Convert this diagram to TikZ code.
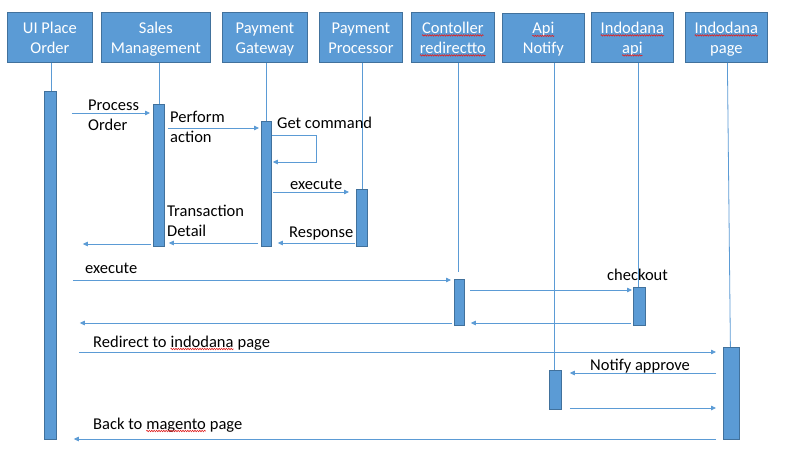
\documentclass[tikz,border=0pt]{standalone}
\usepackage{fontspec}
\setmainfont{Carlito}
\usetikzlibrary{arrows.meta,decorations.pathmorphing}
\definecolor{accent}{HTML}{5B9BD5}
\definecolor{edgeblue}{HTML}{41719C}
\definecolor{squig}{HTML}{E02020}
\newcommand\sq[1]{\tikz[baseline=(sqw.base)]{\node[inner sep=0pt,outer sep=0pt](sqw){#1};\draw[squig,line width=0.6pt,decorate,decoration={zigzag,amplitude=0.7pt,segment length=2.4pt}]([yshift=-2pt]sqw.base west)--([yshift=-2pt]sqw.base east);}}
\tikzset{
 head/.style={draw=edgeblue, fill=accent, line width=0.8pt, inner sep=0pt, anchor=north west, minimum height=50pt},
 headtxt/.style={text=white, align=center, font=\fontsize{16.5}{20}\selectfont, inner sep=0pt},
 lbl/.style={anchor=base west, font=\fontsize{16.5}{20}\selectfont, inner sep=0pt, text=black},
 lbltwo/.style={anchor=north west, align=left, font=\fontsize{16.5}{20}\selectfont, inner sep=0pt, text=black},
 actbar/.style={draw=edgeblue, fill=accent, line width=0.8pt, anchor=north west, inner sep=0pt},
 life/.style={draw=accent, line width=0.8pt},
 msg/.style={draw=accent, line width=0.8pt, -{Triangle[length=5pt,width=4.5pt]}},
}
\begin{document}
\begin{tikzpicture}[x=1pt,y=-1pt]
\useasboundingbox[fill=white] (0,0) rectangle (790,457);
% header boxes
\node[head, minimum width=85pt] (ui) at (7,12) {};
\node[head, minimum width=109pt] (sales) at (101,12) {};
\node[head, minimum width=85pt] (gw) at (222,12) {};
\node[head, minimum width=83pt] (proc) at (319,12) {};
\node[head, minimum width=83pt] (ctrl) at (411,12) {};
\node[head, minimum width=82pt, minimum height=49pt] (notify) at (502,13) {};
\node[head, minimum width=82pt] (idapi) at (591,12) {};
\node[head, minimum width=82pt] (page) at (685,12) {};
% header texts
\node[headtxt] (uit) at ([yshift=-2pt]ui.center) {\strut UI Place\\\strut Order};
\node[headtxt] (salest) at ([yshift=-2pt]sales.center) {\strut Sales\\\strut Management};
\node[headtxt] (gwt) at ([yshift=-2pt]gw.center) {\strut Payment\\\strut Gateway};
\node[headtxt] (proct) at ([yshift=-2pt]proc.center) {\strut Payment\\\strut Processor};
\node[headtxt] (ctrlt) at ([yshift=-2pt]ctrl.center) {\strut\sq{Contoller}\\\strut\sq{redirectto}};
\node[headtxt] (notifyt) at ([yshift=-2pt]notify.center) {\strut\sq{Api}\\\strut Notify};
\node[headtxt] (idapit) at ([yshift=-2pt]idapi.center) {\strut\sq{Indodana}\\\strut\sq{api}};
\node[headtxt] (paget) at ([yshift=-2pt]page.center) {\strut\sq{Indodana}\\\strut page};
% activation bars
\node[actbar, minimum width=12pt, minimum height=348pt] (uibar) at (44,91) {};
\node[actbar, minimum width=11pt, minimum height=142pt] (salesbar) at (153,104) {};
\node[actbar, minimum width=10pt, minimum height=125pt] (gwbar) at (261,121) {};
\node[actbar, minimum width=11pt, minimum height=57pt] (procbar) at (356,189) {};
\node[actbar, minimum width=10pt, minimum height=46pt] (ctrlbar) at (454,279) {};
\node[actbar, minimum width=12pt, minimum height=38pt] (idapibar) at (633,287) {};
\node[actbar, minimum width=12pt, minimum height=39pt] (notifybar) at (549,370) {};
\node[actbar, minimum width=16pt, minimum height=92pt] (pagebar) at (723,347) {};
% lifelines
\draw[life] ([xshift=1pt]uibar.north |- ui.south) -- ([xshift=1pt]uibar.north);
\draw[life] (salesbar.north |- sales.south) -- (salesbar.north);
\draw[life] (gwbar.north |- gw.south) -- (gwbar.north);
\draw[life] (procbar.north |- proc.south) -- (procbar.north);
\draw[life] ([xshift=-1pt]ctrlbar.north |- ctrl.south) -- ([xshift=-1pt,yshift=7pt]ctrlbar.north);
\draw[life] ([xshift=-1pt]notifybar.north |- notify.south) -- ([xshift=-1pt]notifybar.north);
\draw[life] ([xshift=-1pt]idapibar.north |- idapi.south) -- ([xshift=-1pt]idapibar.north);
\draw[life] ([xshift=-4pt]pagebar.north |- page.south) -- ([xshift=-1pt]pagebar.north);
% messages
\draw[msg] ([xshift=15pt]uibar.east |- 0,113) -- ([xshift=-3pt]salesbar.west |- 0,113);
\draw[msg] ([xshift=3pt]salesbar.east |- 0,128) -- ([xshift=-2pt]gwbar.west |- 0,128);
\draw[msg] (gwbar.east |- 0,135) -| (316,162) -- ([xshift=1pt]gwbar.east |- 0,162);
\draw[msg] ([xshift=1pt]gwbar.east |- 0,192) -- ([xshift=-7pt]procbar.west |- 0,192);
\draw[msg] ([xshift=-1pt]procbar.west |- 0,243) -- ([xshift=6pt]gwbar.east |- 0,243);
\draw[msg] ([xshift=-3pt]gwbar.west |- 0,243) -- ([xshift=4pt]salesbar.east |- 0,243);
\draw[msg] ([xshift=-2pt]salesbar.west |- 0,244) -- ([xshift=26pt]uibar.east |- 0,244);
\draw[msg] ([xshift=16pt]uibar.east |- 0,280) -- ([xshift=-3pt]ctrlbar.west |- 0,280);
\draw[msg] ([xshift=5pt]ctrlbar.east |- 0,290) -- ([xshift=-1pt]idapibar.west |- 0,290);
\draw[msg] ([xshift=-2pt]idapibar.west |- 0,323) -- ([xshift=6pt]ctrlbar.east |- 0,323);
\draw[msg] ([xshift=-2pt]ctrlbar.west |- 0,323) -- ([xshift=23pt]uibar.east |- 0,323);
\draw[msg] ([xshift=22pt]uibar.east |- 0,352) -- ([xshift=-7pt]pagebar.west |- 0,352);
\draw[msg] ([xshift=-7pt]pagebar.west |- 0,373) -- ([xshift=8pt]notifybar.east |- 0,373);
\draw[msg] ([xshift=8pt]notifybar.east |- 0,408) -- ([xshift=-7pt]pagebar.west |- 0,408);
\draw[msg] ([xshift=-7pt]pagebar.west |- 0,439) -- ([xshift=17pt]uibar.east |- 0,439);
% labels
\node[lbltwo] (l1) at (88,96) {\strut Process\\\strut Order};
\node[lbltwo] (l2) at (170,108) {\strut Perform\\\strut action};
\node[lbl] (l3) at (277,129) {Get command};
\node[lbl] (l4) at (290,190) {execute};
\node[lbltwo] (l5) at (167,202) {\strut Transaction\\\strut Detail};
\node[lbl] (l6) at (289,238) {Response};
\node[lbl] (l7) at (85,273) {execute};
\node[lbl] (l8) at (607,280) {checkout};
\node[lbl] (l9) at (93,347) {Redirect to \sq{indodana} page};
\node[lbl] (l10) at (590,370) {Notify approve};
\node[lbl] (l11) at (93,429) {Back to \sq{magento} page};
\end{tikzpicture}
\end{document}
